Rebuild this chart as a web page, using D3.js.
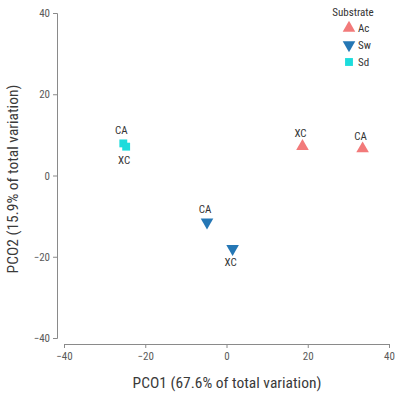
<!DOCTYPE html>
<html>
<head>
<meta charset="utf-8">
<script src="https://cdn.jsdelivr.net/npm/d3@7"></script>
<style>
  body { margin: 0; background: #fff; }
  svg text { font-family: "Liberation Sans Narrow", "Roboto Condensed", "Arial Narrow", "Liberation Sans", sans-serif; }
</style>
</head>
<body>
<svg id="chart" width="399" height="396"></svg>
<script>
/// Data

var substrates = ["Ac", "Sw", "Sd"];
var substrateColors = ["#F27A7A", "#2577B5", "#1CDCDC"];

var sampleSubstrate = ["Ac", "Ac", "Sw", "Sw", "Sd", "Sd"];
var sampleLabel = ["XC", "CA", "CA", "XC", "CA", "XC"];
var pco1 = [18.7, 33.5, -4.8, 1.5, -25.4, -24.7];
var pco2 = [7.2, 6.6, -11.5, -18.0, 7.9, 7.1];
var labelSide = ["above", "above", "above", "below", "above", "below"];

var xTicks = [-40, -20, 0, 20, 40];
var yTicks = [-40, -20, 0, 20, 40];

var xTitle = "PCO1 (67.6% of total variation)";
var yTitle = "PCO2 (15.9% of total variation)";
var legendTitle = "Substrate";


/// Scales

var svg = d3.select("#chart");
var x = d3.scaleLinear().domain([-40, 40]).range([64, 389]);
var y = d3.scaleLinear().domain([-40, 40]).range([338, 13]);
var color = d3.scaleOrdinal().domain(substrates).range(substrateColors);

function symbolPath(s, size){
	if(s == "Sd") return d3.symbol().type(d3.symbolSquare).size(size)();
	return d3.symbol().type(d3.symbolTriangle).size(size * 0.95)();
}
function symbolRotate(s){
	return s == "Sw" ? " rotate(180)" : "";
}


/// Axes

var axisColor = "#8a8a8a";
var tickColor = "#5a5a5a";

var xAxis = svg.append("g")
	.attr("transform", "translate(0,344)")
	.call(d3.axisBottom(x).tickValues(xTicks).tickSizeOuter(0).tickSize(4).tickFormat(d => d3.format("")(d).replace("-", "\u2212")));
var yAxis = svg.append("g")
	.attr("transform", "translate(57,0)")
	.call(d3.axisLeft(y).tickValues(yTicks).tickSizeOuter(0).tickSize(4).tickFormat(d => d3.format("")(d).replace("-", "\u2212")));

[xAxis, yAxis].forEach(function(ax){
	ax.select(".domain").attr("stroke", axisColor);
	ax.selectAll(".tick line").attr("stroke", axisColor);
	ax.selectAll(".tick text").attr("fill", tickColor).style("font-size", "11px");
});
xAxis.selectAll(".tick text").attr("dy", "0.85em");

svg.append("text")
	.attr("x", 227).attr("y", 388)
	.attr("text-anchor", "middle")
	.attr("fill", "#3a3a3a")
	.style("font-size", "15.5px")
	.text(xTitle);

svg.append("text")
	.attr("transform", "translate(18,179) rotate(-90)")
	.attr("text-anchor", "middle")
	.attr("fill", "#3a3a3a")
	.style("font-size", "15.5px")
	.text(yTitle);


/// Points

var points = pco1.map(function(v, i){
	return {x: v, y: pco2[i], s: sampleSubstrate[i], label: sampleLabel[i], side: labelSide[i]};
});

svg.selectAll("path.pt")
	.data(points)
	.enter()
	.append("path")
	.attr("class", "pt")
	.attr("d", d => symbolPath(d.s, d.s == "Sd" ? 62 : 72))
	.attr("transform", d => "translate(" + x(d.x) + "," + y(d.y) + ")" + symbolRotate(d.s))
	.attr("fill", d => color(d.s));

svg.selectAll("text.lbl")
	.data(points)
	.enter()
	.append("text")
	.attr("class", "lbl")
	.attr("x", d => x(d.x) - 2)
	.attr("y", d => d.side == "above" ? y(d.y) - 9 : y(d.y) + 17)
	.attr("text-anchor", "middle")
	.attr("fill", "#333")
	.style("font-size", "11px")
	.text(d => d.label);


/// Legend

var legend = svg.append("g").attr("transform", "translate(349,0)");
legend.append("text")
	.attr("x", 4).attr("y", 16)
	.attr("text-anchor", "middle")
	.attr("fill", "#333")
	.style("font-size", "11px")
	.text(legendTitle);

var items = legend.selectAll("g.item")
	.data(substrates)
	.enter()
	.append("g")
	.attr("class", "item")
	.attr("transform", (d, i) => "translate(0," + (28 + i * 17) + ")");
items.append("path")
	.attr("d", d => symbolPath(d, d == "Sd" ? 62 : 72))
	.attr("transform", d => "translate(0,0)" + symbolRotate(d))
	.attr("fill", d => color(d));
items.append("text")
	.attr("x", 9).attr("y", 4)
	.attr("fill", "#333")
	.style("font-size", "11px")
	.text(d => d);
</script>
</body>
</html>
